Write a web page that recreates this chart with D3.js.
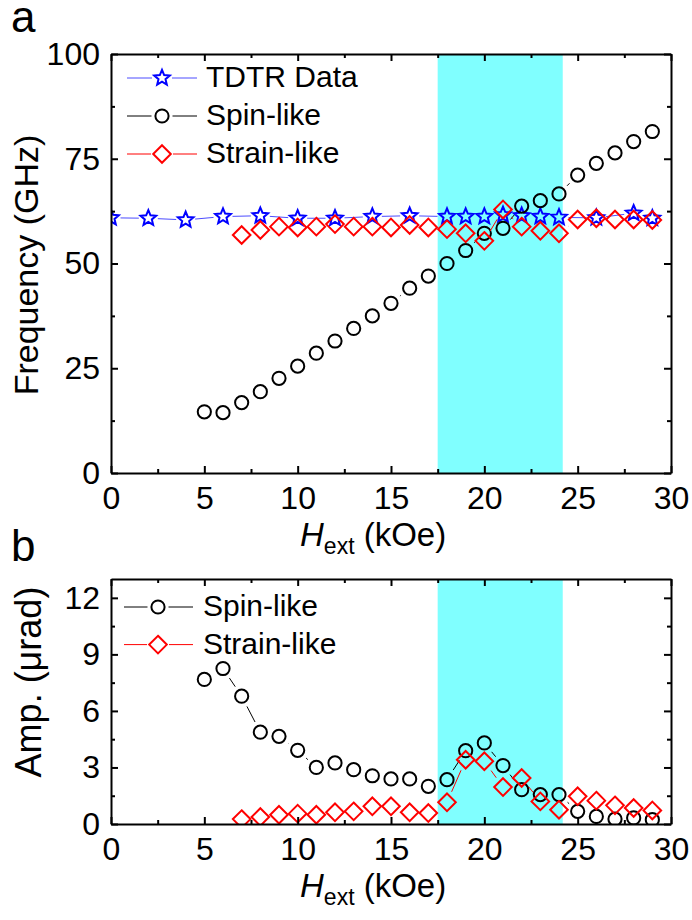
<!DOCTYPE html>
<html>
<head>
<meta charset="utf-8">
<script src="https://cdn.jsdelivr.net/npm/d3@7"></script>
<style>
    body { margin: 0; background: #fff; }
    svg text { font-family: "Liberation Sans", Arial, sans-serif; fill: #000; }
    .axis path, .axis line { stroke: #000; stroke-width: 2; }
    .axis text { font-size: 32px; }
    .band { fill: #80ffff; }
    .mk { fill: none; stroke-width: 2; }
    .seg { stroke-width: 1; }
</style>
</head>
<body>
<script>

// ---- data ----
var bandRange = [17.5, 24.2];

var tdtrField = [0, 2, 4, 6, 8, 10, 12, 14, 16, 18, 19, 20, 21, 22, 23, 24, 26, 28, 29];
var tdtrFreq  = [60.9, 60.8, 60.4, 61.2, 61.4, 60.8, 60.8, 61.2, 61.4, 61.2, 61.2, 61.2, 61.6, 61.4, 61.2, 61.0, 60.9, 62.0, 60.8];

var spinField = [5, 6, 7, 8, 9, 10, 11, 12, 13, 14, 15, 16, 17, 18, 19, 20, 21, 22, 23, 24, 25, 26, 27, 28, 29];
var spinFreq  = [14.6, 14.4, 16.8, 19.4, 22.6, 25.5, 28.6, 31.5, 34.5, 37.5, 40.5, 44.1, 47.0, 50.0, 53.1, 57.2, 58.4, 63.7, 65.0, 66.6, 71.1, 73.9, 76.4, 79.1, 81.5];
var spinAmp   = [7.67, 8.25, 6.78, 4.87, 4.65, 3.91, 3.0, 3.24, 2.88, 2.56, 2.39, 2.39, 2.0, 2.35, 3.89, 4.30, 3.1, 1.82, 1.56, 1.56, 0.67, 0.40, 0.26, 0.32, 0.23];

var strainField = [7, 8, 9, 10, 11, 12, 13, 14, 15, 16, 17, 18, 19, 20, 21, 22, 23, 24, 25, 26, 27, 28, 29];
var strainFreq  = [56.8, 58.0, 58.8, 58.6, 58.8, 59.4, 58.8, 58.8, 58.6, 59.2, 58.6, 58.2, 57.2, 55.4, 62.9, 58.8, 57.8, 57.2, 60.5, 60.8, 60.5, 60.5, 60.4];
var strainAmp   = [0.26, 0.37, 0.49, 0.55, 0.49, 0.62, 0.67, 0.94, 0.94, 0.62, 0.58, 1.15, 3.41, 3.33, 1.96, 2.44, 1.2, 0.76, 1.47, 1.24, 0.99, 0.85, 0.72];

var xTicks  = [0, 5, 10, 15, 20, 25, 30];
var xMinor  = [2.5, 7.5, 12.5, 17.5, 22.5, 27.5];
var freqTicks = [0, 25, 50, 75, 100];
var freqMinor = [12.5, 37.5, 62.5, 87.5];
var ampTicks  = [0, 3, 6, 9, 12];
var ampMinor  = [1.5, 4.5, 7.5, 10.5];

// ---- markers ----
function starPath(R) {
    var r = R * 0.45, p = [];
    for (var i = 0; i < 10; i++) {
        var a = -Math.PI / 2 + i * Math.PI / 5, rr = i % 2 ? r : R;
        p.push([rr * Math.cos(a), rr * Math.sin(a)]);
    }
    return "M" + p.join("L") + "Z";
}
function diamondPath(r) {
    return "M0," + (-r) + "L" + r + ",0L0," + r + "L" + (-r) + ",0Z";
}
function circlePath(r) {
    return "M" + r + ",0A" + r + "," + r + " 0 1,1 " + (-r) + ",0A" + r + "," + r + " 0 1,1 " + r + ",0Z";
}

// gap = how far the connecting line stays away from a marker centre
var styles = {
    tdtr:   { color: "#0000ff", line: "#4c4cff", d: starPath(8.2), gap: 9.5, lgap: 10 },
    spin:   { color: "#000000", line: "#000000", d: circlePath(6.6), gap: 11.5, lgap: 10.5 },
    strain: { color: "#ff0000", line: "#ff0000", d: diamondPath(8.8), gap: 11.5, lgap: 11 }
};

var svg = d3.select("body").append("svg")
    .attr("width", 692)
    .attr("height", 920);

var x0 = 111, x1 = 671;

function panel(cfg) {
    var x = d3.scaleLinear().domain([0, 30]).range([x0, x1]);
    var y = d3.scaleLinear().domain(cfg.yDomain).range([cfg.bottom, cfg.top]);
    var g = svg.append("g");

    var clipId = "clip-" + cfg.name;
    svg.append("clipPath").attr("id", clipId)
        .append("rect")
        .attr("x", x0).attr("y", cfg.top)
        .attr("width", x1 - x0).attr("height", cfg.bottom - cfg.top);

    var plot = g.append("g").attr("clip-path", "url(#" + clipId + ")");

    plot.append("rect")
        .attr("class", "band")
        .attr("x", x(bandRange[0]))
        .attr("width", x(bandRange[1]) - x(bandRange[0]))
        .attr("y", cfg.top)
        .attr("height", cfg.bottom - cfg.top);

    cfg.series.forEach(function(s) {
        var st = styles[s.key];
        var pts = s.xs.map(function(v, i) { return [x(v), y(s.ys[i])]; });

        // line drawn with a gap around each marker
        var segs = [];
        for (var i = 0; i < pts.length - 1; i++) {
            var dx = pts[i+1][0] - pts[i][0], dy = pts[i+1][1] - pts[i][1];
            var len = Math.sqrt(dx * dx + dy * dy);
            if (len <= 2 * st.gap) continue;
            var ux = dx / len, uy = dy / len;
            segs.push([pts[i][0] + ux * st.gap, pts[i][1] + uy * st.gap,
                       pts[i+1][0] - ux * st.gap, pts[i+1][1] - uy * st.gap]);
        }
        plot.append("g").selectAll("line")
            .data(segs).enter().append("line")
            .attr("class", "seg")
            .attr("stroke", st.line)
            .attr("x1", function(d) { return d[0]; })
            .attr("y1", function(d) { return d[1]; })
            .attr("x2", function(d) { return d[2]; })
            .attr("y2", function(d) { return d[3]; });

        plot.append("g").selectAll("path")
            .data(pts).enter().append("path")
            .attr("class", "mk")
            .attr("stroke", st.color)
            .attr("d", st.d)
            .attr("transform", function(d) { return "translate(" + d[0] + "," + d[1] + ")"; });
    });

    // axes, ticks pointing inward on all four sides
    g.append("g").attr("class", "axis")
        .attr("transform", "translate(0," + cfg.bottom + ")")
        .call(d3.axisBottom(x).tickValues(xTicks).tickSizeInner(-7).tickSizeOuter(0).tickPadding(13));
    g.append("g").attr("class", "axis")
        .attr("transform", "translate(0," + cfg.bottom + ")")
        .call(d3.axisBottom(x).tickValues(xMinor).tickSize(-4).tickFormat(""))
        .select(".domain").remove();
    g.append("g").attr("class", "axis")
        .attr("transform", "translate(0," + cfg.top + ")")
        .call(d3.axisTop(x).tickValues(xTicks).tickSizeInner(-7).tickSizeOuter(0).tickFormat(""));
    g.append("g").attr("class", "axis")
        .attr("transform", "translate(0," + cfg.top + ")")
        .call(d3.axisTop(x).tickValues(xMinor).tickSize(-4).tickFormat(""))
        .select(".domain").remove();

    g.append("g").attr("class", "axis")
        .attr("transform", "translate(" + x0 + ",0)")
        .call(d3.axisLeft(y).tickValues(cfg.yTicks).tickSizeInner(-7).tickSizeOuter(0).tickPadding(11));
    g.append("g").attr("class", "axis")
        .attr("transform", "translate(" + x0 + ",0)")
        .call(d3.axisLeft(y).tickValues(cfg.yMinor).tickSize(-4).tickFormat(""))
        .select(".domain").remove();
    g.append("g").attr("class", "axis")
        .attr("transform", "translate(" + x1 + ",0)")
        .call(d3.axisRight(y).tickValues(cfg.yTicks).tickSizeInner(-7).tickSizeOuter(0).tickFormat(""));
    g.append("g").attr("class", "axis")
        .attr("transform", "translate(" + x1 + ",0)")
        .call(d3.axisRight(y).tickValues(cfg.yMinor).tickSize(-4).tickFormat(""))
        .select(".domain").remove();

    // legend
    var leg = g.append("g");
    cfg.series.forEach(function(s, i) {
        var st = styles[s.key], ly = cfg.legend.y + i * cfg.legend.dy, lm = cfg.legend.mx;
        leg.append("line").attr("stroke", st.line).attr("stroke-width", 1)
            .attr("x1", cfg.legend.x1).attr("x2", lm - st.lgap).attr("y1", ly).attr("y2", ly);
        leg.append("line").attr("stroke", st.line).attr("stroke-width", 1)
            .attr("x1", lm + st.lgap).attr("x2", cfg.legend.x2).attr("y1", ly).attr("y2", ly);
        leg.append("path").attr("class", "mk").attr("stroke", st.color)
            .attr("d", st.d).attr("transform", "translate(" + lm + "," + ly + ")");
        leg.append("text")
            .attr("x", cfg.legend.tx).attr("y", ly).attr("dy", "0.31em")
            .style("font-size", "30px")
            .text(s.label);
    });

    // axis titles
    var xt = g.append("text")
        .attr("x", 300).attr("y", cfg.bottom + 73)
        .style("font-size", "33px");
    xt.append("tspan").style("font-style", "italic").text("H");
    xt.append("tspan").style("font-size", "23px").attr("dy", 8).text("ext");
    xt.append("tspan").attr("dy", -8).text(" (kOe)");

    g.append("text")
        .attr("transform", "translate(" + cfg.ylab.x + "," + cfg.ylab.y + ") rotate(-90)")
        .attr("text-anchor", "middle")
        .style("font-size", cfg.ylab.size + "px")
        .text(cfg.ylab.text);

    g.append("text")
        .attr("x", 11).attr("y", cfg.letterY)
        .style("font-size", "44px")
        .text(cfg.letter);
}

panel({
    name: "a", top: 54, bottom: 473, yDomain: [0, 100],
    yTicks: freqTicks, yMinor: freqMinor,
    letter: "a", letterY: 32,
    ylab: { text: "Frequency (GHz)", x: 38, y: 265, size: 34 },
    legend: { x1: 127, x2: 197, mx: 162, tx: 206, y: 78, dy: 38 },
    series: [
        { key: "tdtr",   label: "TDTR Data",   xs: tdtrField,   ys: tdtrFreq },
        { key: "spin",   label: "Spin-like",   xs: spinField,   ys: spinFreq },
        { key: "strain", label: "Strain-like", xs: strainField, ys: strainFreq }
    ]
});

panel({
    name: "b", top: 579, bottom: 824, yDomain: [0, 13],
    yTicks: ampTicks, yMinor: ampMinor,
    letter: "b", letterY: 561,
    ylab: { text: "Amp. (\u03bcrad)", x: 41, y: 682, size: 36 },
    legend: { x1: 124, x2: 193, mx: 158, tx: 203, y: 607, dy: 37.6 },
    series: [
        { key: "spin",   label: "Spin-like",   xs: spinField,   ys: spinAmp },
        { key: "strain", label: "Strain-like", xs: strainField, ys: strainAmp }
    ]
});

</script>
</body>
</html>
